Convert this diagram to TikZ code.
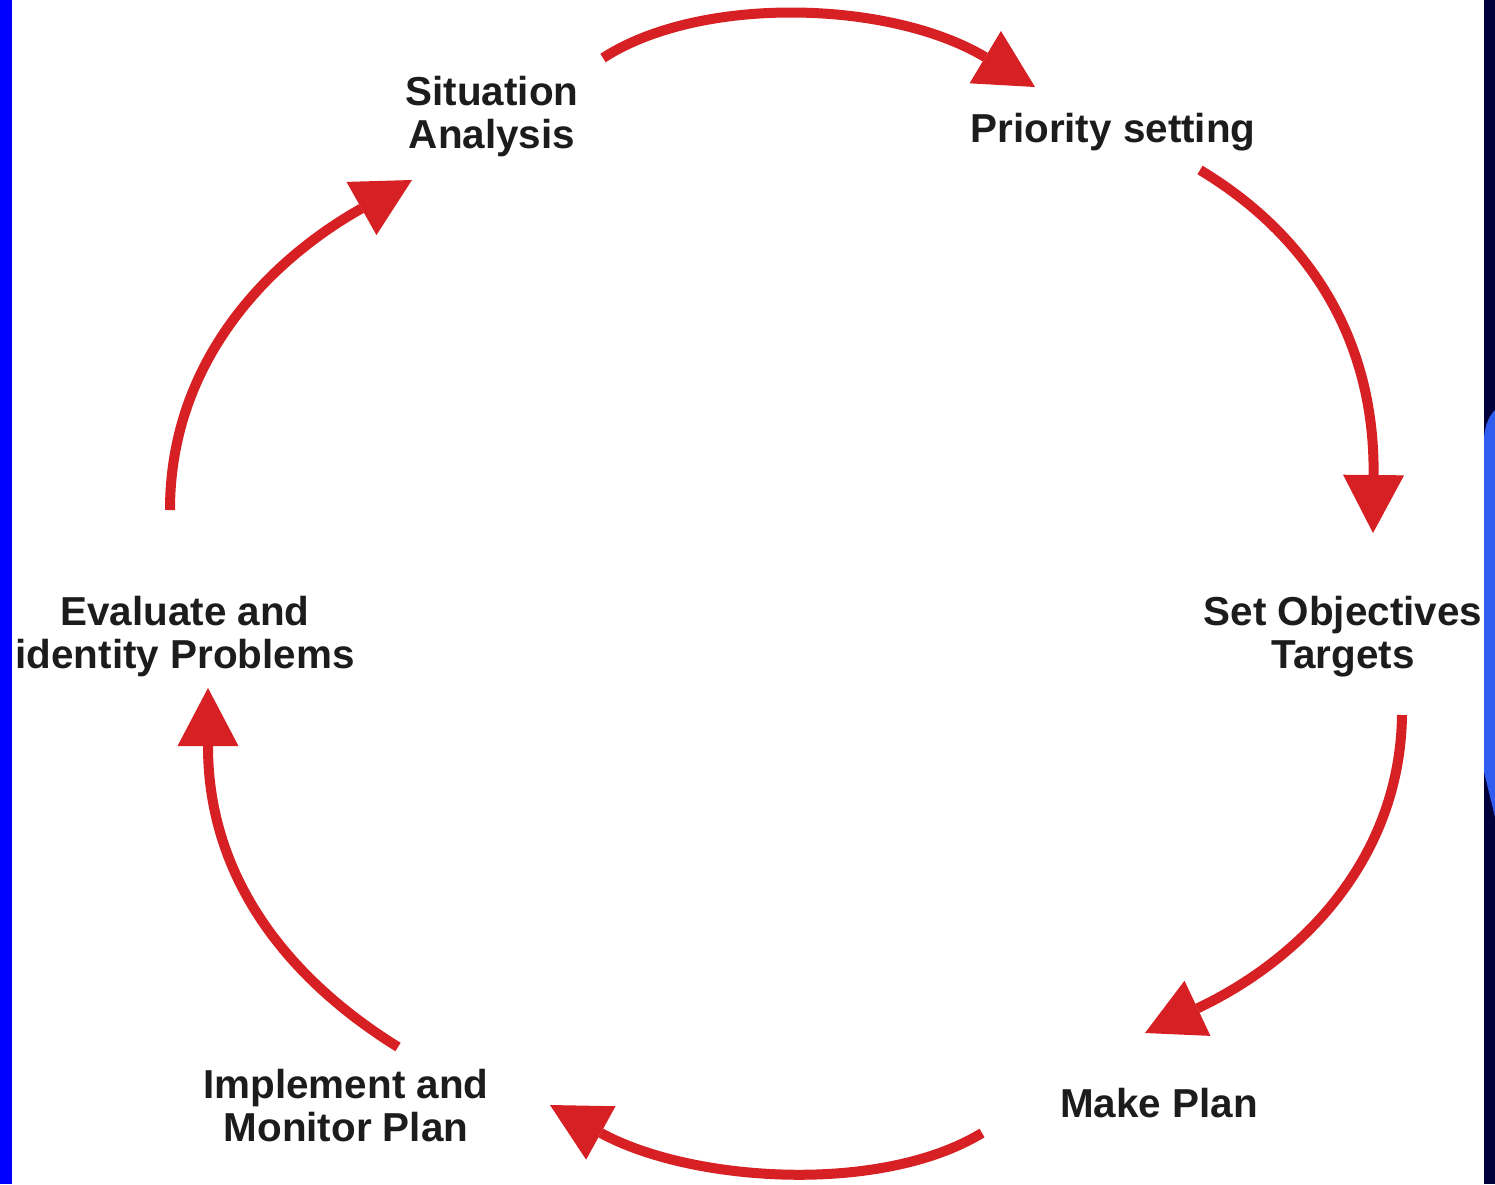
\documentclass[tikz,border=0pt]{standalone}
\usepackage{fontspec}
\setmainfont{Liberation Sans}
\usetikzlibrary{arrows.meta}
\definecolor{cycred}{RGB}{214,32,36}
\definecolor{lbltext}{RGB}{28,28,28}
\definecolor{stripblue}{RGB}{0,0,255}
\definecolor{navyband}{RGB}{0,0,58}
\definecolor{glowblue}{RGB}{48,92,240}

\begin{document}
\begin{tikzpicture}[x=0.02cm,y=-0.02cm,
  flow/.style={draw=cycred, line width=0.2cm,
    -{Triangle[length=1.16cm,width=1.22cm,line width=0pt]}},
  lbl/.style={font=\fontsize{23}{24.5}\selectfont\bfseries, text=lbltext,
    align=center, inner sep=0pt, anchor=north}]
\fill[white] (0,0) rectangle (1495,1184);
\useasboundingbox (0,0) rectangle (1495,1184);

% stage labels
\node[lbl] (sit) at (492,76)   {Situation\\Analysis};
\node[lbl] (pri) at (1113,113) {Priority setting};
\node[lbl] (obj) at (1343,596) {Set Objectives\\Targets};
\node[lbl] (mak) at (1159,1088) {Make Plan};
\node[lbl] (imp) at (346,1069) {Implement and\\Monitor Plan};
\node[lbl] (eva) at (185,596)  {Evaluate and\\identity Problems};

% side bands
\fill[stripblue] (0,0) rectangle (12,1184);
\fill[navyband] (1484,0) rectangle (1495,1184);
\fill[glowblue] (1495,410) .. controls (1489,416) and (1485,425) .. (1484,438)
  -- (1484,772) -- (1495,817) -- cycle;

% arrow end points
\coordinate (a1s) at (603,58);   \coordinate (a1e) at (1035,87);
\coordinate (a2s) at (1200,170); \coordinate (a2e) at (1373,533);
\coordinate (a3s) at (1402,715); \coordinate (a3e) at (1145,1033);
\coordinate (a4s) at (982,1133); \coordinate (a4e) at (550,1105);
\coordinate (a5s) at (398,1047); \coordinate (a5e) at (208,688);
\coordinate (a6s) at (170,510);  \coordinate (a6e) at (412,180);

% cycle arrows
\draw[flow] (a1s) .. controls (700,-5) and (890,0) .. (a1e);
\draw[flow] (a2s) .. controls (1300,230) and (1375,330) .. (a2e);
\draw[flow] (a3s) .. controls (1400,860) and (1300,960) .. (a3e);
\draw[flow] (a4s) .. controls (880,1195) and (690,1182) .. (a4e);
\draw[flow] (a5s) .. controls (290,980) and (208,880) .. (a5e);
\draw[flow] (a6s) .. controls (170,360) and (270,260) .. (a6e);
\end{tikzpicture}
\end{document}
